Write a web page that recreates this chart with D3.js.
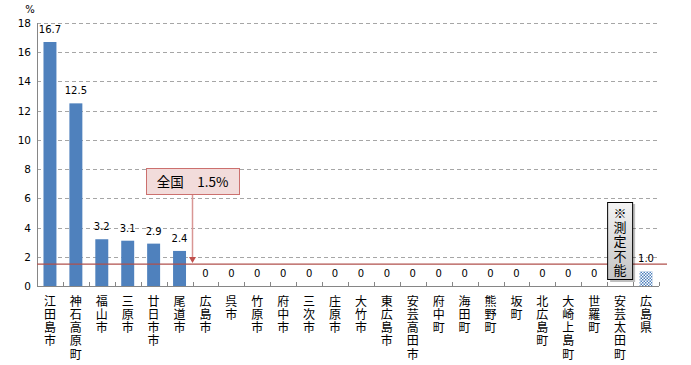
<!DOCTYPE html>
<html><head><meta charset="utf-8">
<script src="https://cdn.jsdelivr.net/npm/d3@7"></script>
<style>body{margin:0;background:#fff}svg{display:block}</style>
</head><body>
<svg id="c" width="691" height="365"></svg>
<script>
const categories = ["江田島市","神石高原町","福山市","三原市","廿日市市","尾道市","広島市","呉市","竹原市","府中市","三次市","庄原市","大竹市","東広島市","安芸高田市","府中町","海田町","熊野町","坂町","北広島町","大崎上島町","世羅町","安芸太田町","広島県"];
const values = [16.7,12.5,3.2,3.1,2.9,2.4,0,0,0,0,0,0,0,0,0,0,0,0,0,0,0,0,null,1.0];
const yTicks = [0,2,4,6,8,10,12,14,16,18];
const nationalValue = 1.5;
const nationalLabel = "全国　1.5%";
const unmeasuredLabel = "※測定不能";
const unmeasuredIndex = 22;
const prefectureIndex = 23;
const calloutIndex = 6;

const svg = d3.select("#c");
const L = 37, R = 659, T = 23, B = 286;
const x = d3.scaleBand().domain(categories).range([L, R]).paddingInner(0.5).paddingOuter(0.25);
const y = d3.scaleLinear().domain([0, 18]).range([B, T]);
const num = "'DejaVu Sans', Verdana, sans-serif";
const cjk = "'Noto Sans CJK JP', sans-serif";

const defs = svg.append("defs");
const pat = defs.append("pattern").attr("id","chk").attr("width",3).attr("height",3).attr("patternUnits","userSpaceOnUse");
pat.append("rect").attr("width",3).attr("height",3).attr("fill","#fff");
pat.append("rect").attr("width",1.5).attr("height",1.5).attr("fill","#4F81BD");
pat.append("rect").attr("x",1.5).attr("y",1.5).attr("width",1.5).attr("height",1.5).attr("fill","#4F81BD");
const grad = defs.append("linearGradient").attr("id","gbox").attr("x1",0).attr("y1",0).attr("x2",0).attr("y2",1);
grad.append("stop").attr("offset","0%").attr("stop-color","#f4f4f4");
grad.append("stop").attr("offset","100%").attr("stop-color","#c4c4c4");

// gridlines
svg.append("g").selectAll("line").data(yTicks.filter(d=>d>0)).join("line")
  .attr("x1",L).attr("x2",R).attr("y1",d=>Math.round(y(d))+0.5).attr("y2",d=>Math.round(y(d))+0.5)
  .attr("stroke","#a6a6a6").attr("stroke-dasharray","4,3").attr("stroke-width",1);

// y axis labels
svg.append("g").selectAll("text").data(yTicks).join("text")
  .attr("x",31).attr("y",d=>y(d)+4).attr("text-anchor","end")
  .attr("font-family",num).attr("font-size","10.5px").attr("fill","#000").text(d=>d);
svg.append("text").attr("x",30).attr("y",13).attr("text-anchor","middle")
  .attr("font-family",num).attr("font-size","10px").text("%");

// bars
svg.append("g").selectAll("rect").data(values.map((v,i)=>({v,i})).filter(d=>d.v!==null && d.v>0)).join("rect")
  .attr("x",d=>x(categories[d.i])).attr("width",x.bandwidth())
  .attr("y",d=>y(d.v)).attr("height",d=>B-y(d.v))
  .attr("fill",d=>d.i===prefectureIndex?"url(#chk)":"#4F81BD");

// axes lines
svg.append("line").attr("x1",L+0.5).attr("x2",L+0.5).attr("y1",T).attr("y2",B).attr("stroke","#868686");
svg.append("line").attr("x1",L).attr("x2",R).attr("y1",B+0.5).attr("y2",B+0.5).attr("stroke","#868686");
svg.append("g").selectAll("line").data(d3.range(categories.length+1)).join("line")
  .attr("x1",d=>Math.round(L+d*(R-L)/categories.length)+0.5).attr("x2",d=>Math.round(L+d*(R-L)/categories.length)+0.5)
  .attr("y1",B-4).attr("y2",B).attr("stroke","#868686");

// national line
svg.append("line").attr("x1",L).attr("x2",667).attr("y1",y(nationalValue)).attr("y2",y(nationalValue))
  .attr("stroke","#B0504D").attr("stroke-width",1.3);

// value labels
svg.append("g").selectAll("text").data(values.map((v,i)=>({v,i})).filter(d=>d.v!==null)).join("text")
  .attr("x",d=>x(categories[d.i])+x.bandwidth()/2).attr("y",d=>y(d.v)-9)
  .attr("text-anchor","middle").attr("font-family",num).attr("font-size","10px").attr("fill","#000")
  .text(d=>d.v===0?"0":d.v.toFixed(1));

// category labels (vertical, one glyph per line)
const cg = svg.append("g");
categories.forEach((c,i)=>{
  const cx = x(c)+x.bandwidth()/2;
  Array.from(c).forEach((ch,j)=>{
    cg.append("text").attr("x",cx).attr("y",305.5+j*13.3).attr("text-anchor","middle")
      .attr("font-family",cjk).attr("font-size","12px").attr("fill","#000").text(ch);
  });
});

// callout
const ccx = L + calloutIndex*(R-L)/categories.length;
svg.append("rect").attr("x",ccx-46).attr("y",168.5).attr("width",93).attr("height",26)
  .attr("fill","#F2DCDB").attr("stroke","#C0504D").attr("stroke-opacity",0.8);
svg.append("text").attr("x",ccx).attr("y",186.5).attr("text-anchor","middle")
  .attr("font-family",cjk).attr("font-size","13.5px").attr("fill","#000").text(nationalLabel);
svg.append("line").attr("x1",ccx).attr("x2",ccx).attr("y1",195).attr("y2",y(nationalValue)-5)
  .attr("stroke","#D99694").attr("stroke-width",1.5);
svg.append("path").attr("d",`M${ccx-3.5},${y(nationalValue)-7}L${ccx+3.5},${y(nationalValue)-7}L${ccx},${y(nationalValue)-1}Z`)
  .attr("fill","#C0504D");

// unmeasured box
const ux = x(categories[unmeasuredIndex])+x.bandwidth()/2;
svg.append("rect").attr("x",ux-12+2).attr("y",202+2).attr("width",25).attr("height",78).attr("fill","#000").attr("opacity",0.25);
svg.append("rect").attr("x",ux-12.5).attr("y",202.5).attr("width",25).attr("height",77)
  .attr("fill","url(#gbox)").attr("stroke","#000").attr("stroke-width",1);
Array.from(unmeasuredLabel).forEach((ch,j)=>{
  svg.append("text").attr("x",ux).attr("y",218+j*14.2).attr("text-anchor","middle")
    .attr("font-family",cjk).attr("font-size","13px").attr("fill","#000").text(ch);
});
</script>
</body></html>
